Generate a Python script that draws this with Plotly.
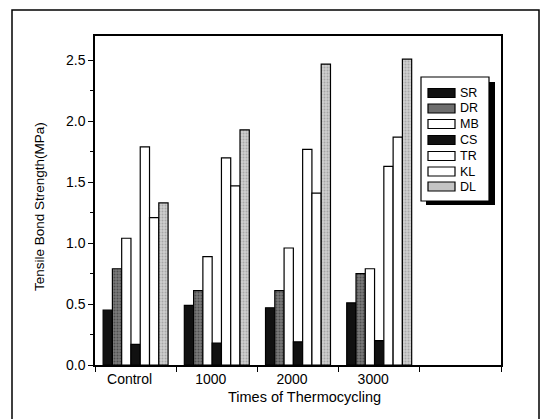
import plotly.graph_objects as go

categories = ["Control", "1000", "2000", "3000"]
series_names = ["SR", "DR", "MB", "CS", "TR", "KL", "DL"]
SR = [0.45, 0.49, 0.47, 0.51]
DR = [0.79, 0.61, 0.61, 0.75]
MB = [1.04, 0.89, 0.96, 0.79]
CS = [0.17, 0.18, 0.19, 0.20]
TR = [1.79, 1.70, 1.77, 1.63]
KL = [1.21, 1.47, 1.41, 1.87]
DL = [1.33, 1.93, 2.47, 2.51]
series_values = [SR, DR, MB, CS, TR, KL, DL]
y_ticks = [0.0, 0.5, 1.0, 1.5, 2.0, 2.5]

fills = ["#111111", "#6e6e6e", "#ffffff", "#111111", "#ffffff", "#ffffff", "#c4c4c4"]
patterns = [None, dict(shape=".", fgcolor="#222222", bgcolor="#7a7a7a", size=3, solidity=0.35),
            None, None, None, None,
            dict(shape=".", fgcolor="#808080", bgcolor="#cfcfcf", size=3, solidity=0.35)]

W, H = 542, 419
L, R, T, B = 95, 501, 36, 365
def px(x):
    return (x - L) / (R - L)
def py(y):
    return (B - y) / (B - T)

fig = go.Figure()
for name, vals, fc, pat in zip(series_names, series_values, fills, patterns):
    marker = dict(color=fc, line=dict(color="black", width=1.2))
    if pat:
        marker["pattern"] = pat
    fig.add_trace(go.Bar(name=name, x=categories, y=vals, marker=marker, showlegend=False))

font = "Liberation Sans, Arial, sans-serif"
shapes = []
# outer border
shapes.append(dict(type="rect", xref="paper", yref="paper", x0=px(12), x1=px(539), y0=py(430), y1=py(10),
                   line=dict(color="black", width=1.5), fillcolor="rgba(0,0,0,0)", layer="below"))
# legend shadow and box
shapes.append(dict(type="rect", xref="paper", yref="paper", x0=px(426), x1=px(495), y0=py(205), y1=py(82),
                   line=dict(color="black", width=0), fillcolor="black"))
shapes.append(dict(type="rect", xref="paper", yref="paper", x0=px(421), x1=px(489), y0=py(201), y1=py(77),
                   line=dict(color="black", width=1.2), fillcolor="white"))
annotations = []
row_y = [93, 108.5, 124, 140, 156, 171.5, 186.5]
for name, fc, yy in zip(series_names, fills, row_y):
    shapes.append(dict(type="rect", xref="paper", yref="paper", x0=px(428), x1=px(455), y0=py(yy + 4.5), y1=py(yy - 4.5),
                       line=dict(color="black", width=1.2), fillcolor=fc))
    annotations.append(dict(text=name, xref="paper", yref="paper", x=px(458), y=py(yy), xanchor="left", yanchor="middle",
                            showarrow=False, font=dict(family=font, size=12.5, color="black")))
annotations.append(dict(text="Tensile Bond Strength(MPa)", xref="paper", yref="paper", x=px(39), y=py(207),
                        textangle=-90, showarrow=False, xanchor="center", yanchor="middle",
                        font=dict(family=font, size=13.5, color="black")))
annotations.append(dict(text="Times of Thermocycling", xref="paper", yref="paper", x=px(304), y=py(397),
                        showarrow=False, xanchor="center", yanchor="middle",
                        font=dict(family=font, size=14.5, color="black")))

fig.update_layout(
    width=W, height=H, margin=dict(l=L, r=W - R, t=T, b=H - B),
    paper_bgcolor="white", plot_bgcolor="white",
    barmode="group", bargap=0.2, bargroupgap=0.0,
    shapes=shapes, annotations=annotations,
    font=dict(family=font, size=14, color="black"),
)
fig.update_xaxes(type="category", categoryorder="array", categoryarray=categories + [" "],
                 range=[-0.5, 4.5], tickson="boundaries", ticks="outside", ticklen=5, tickwidth=1.2,
                 tickcolor="black", showline=True, linecolor="black", linewidth=1.5, mirror=True,
                 showgrid=False, tickfont=dict(family=font, size=14), ticklabelshift=-6)
fig.update_yaxes(range=[0, 2.7], tickvals=y_ticks, tickformat=".1f", ticks="outside", ticklen=5, tickwidth=1.2,
                 tickcolor="black", showline=True, linecolor="black", linewidth=1.5, mirror=True,
                 showgrid=False, zeroline=False, tickfont=dict(family=font, size=14),
                 minor=dict(dtick=0.25, ticks="outside", ticklen=3, tickcolor="black", showgrid=False))
fig.write_html("out.html")
